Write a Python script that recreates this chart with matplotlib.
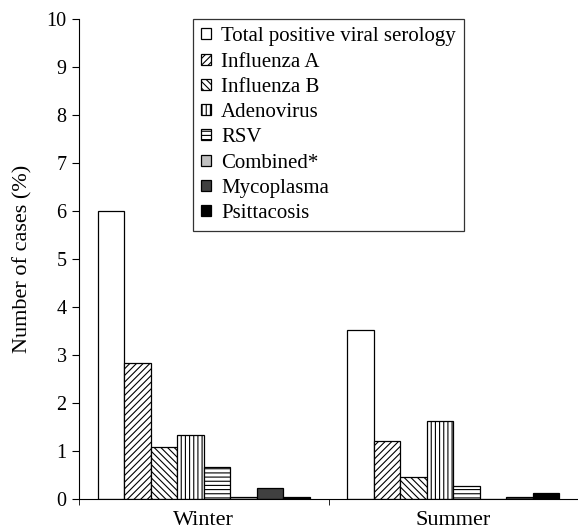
import numpy as np
import matplotlib
matplotlib.use("Agg")
import matplotlib.pyplot as plt

plt.rcParams['font.family'] = ['Liberation Serif', 'DejaVu Serif']
plt.rcParams['hatch.linewidth'] = 0.8

seasons = ["Winter", "Summer"]
series = ["Total positive viral serology", "Influenza A", "Influenza B",
          "Adenovirus", "RSV", "Combined*", "Mycoplasma", "Psittacosis"]
winter = [6.0, 2.83, 1.09, 1.34, 0.67, 0.05, 0.22, 0.05]
summer = [3.52, 1.21, 0.45, 1.62, 0.27, 0.0, 0.05, 0.13]

colors = ["white", "white", "white", "white", "white", "#c0c0c0", "#404040", "black"]
hatches = [None, "/////", "\\\\\\\\\\", "||||", "----", None, None, None]

fig = plt.figure(figsize=(5.78, 5.30), dpi=100)
ax = fig.add_axes([0.1367, 0.0585, 0.8633, 0.9057])

x = np.arange(len(seasons))
n = len(series)
w = 0.85 / n
for i, name in enumerate(series):
    vals = [winter[i], summer[i]]
    ax.bar(x - 0.425 + w * (i + 0.5), vals, w, color=colors[i], hatch=hatches[i],
           edgecolor="black", linewidth=0.9, label=name)

ax.set_xlim(-0.5, 1.5)
ax.set_ylim(0, 10)
ax.set_yticks(range(0, 11))
ax.set_xticks(x)
ax.set_xticklabels(seasons)
ax.set_xticks([-0.5, 0.5, 1.5], minor=True)
ax.tick_params(axis="x", which="major", length=0, labelsize=16, pad=9)
ax.tick_params(axis="x", which="minor", length=4.5, direction="out")
ax.tick_params(axis="y", length=5, direction="out", labelsize=14.5, pad=4)
ax.spines["top"].set_visible(False)
ax.spines["right"].set_visible(False)
ax.set_ylabel("Number of cases (%)", fontsize=16, labelpad=10)

leg = ax.legend(loc="upper center", fontsize=15, frameon=True, fancybox=False,
                edgecolor="black", handlelength=0.45, handleheight=0.42,
                handletextpad=0.5, labelspacing=0.3, borderpad=0.4,
                borderaxespad=0.0)
leg.get_frame().set_linewidth(0.9)

fig.savefig("out.png", dpi=100)
